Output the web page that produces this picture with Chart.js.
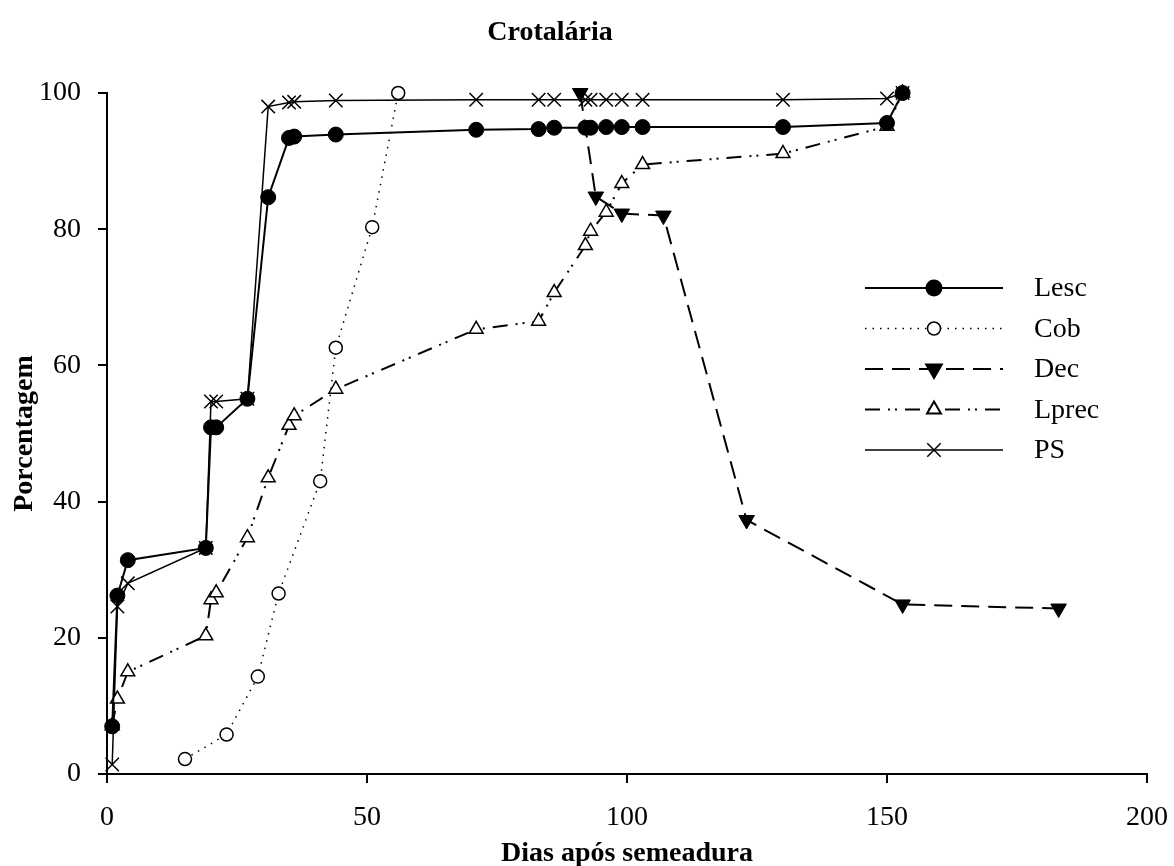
<!DOCTYPE html>
<html>
<head>
<meta charset="utf-8">
<script src="https://cdn.jsdelivr.net/npm/chart.js@4.4.0/dist/chart.umd.min.js"></script>
<style>
  html, body { margin: 0; padding: 0; background: #fff; }
</style>
</head>
<body>
<canvas id="chart" width="1174" height="866"></canvas>
<script>
/* ---------- DATA ---------- */
const days = [1, 2, 4, 19, 20, 21, 27, 31, 35, 36, 44, 71, 83, 86, 92, 93, 96, 99, 103, 130, 150, 153];
const lescY = [7, 26.2, 31.4, 33.2, 50.9, 50.9, 55.1, 84.7, 93.4, 93.6, 93.9, 94.6, 94.7, 94.9, 94.9, 94.9, 95.0, 95.0, 95.0, 95.0, 95.6, 100];
const lprecY = [7.1, 11.0, 15.0, 20.3, 25.6, 26.6, 34.7, 43.5, 51.2, 52.6, 56.5, 65.3, 66.5, 70.7, 77.6, 79.7, 82.5, 86.7, 89.5, 91.1, 95.1, 100];
const psY = [1.4, 24.6, 28.0, 33.2, 54.7, 54.7, 55.1, 98.0, 98.6, 98.7, 98.9, 99.0, 99.0, 99.0, 99.0, 99.0, 99.0, 99.0, 99.0, 99.0, 99.2, 100];

const cobX = [15, 23, 29, 33, 41, 44, 51, 56];
const cobY = [2.2, 5.8, 14.3, 26.5, 43.0, 62.6, 80.3, 100];

const decX = [91, 94, 99, 107, 123, 153, 183];
const decY = [100, 84.8, 82.3, 82.0, 37.3, 24.9, 24.3];

const xTicks = [0, 50, 100, 150, 200];
const yTicks = [0, 20, 40, 60, 80, 100];

const SERIF = '"Liberation Serif", "Times New Roman", serif';
const pts = (xs, ys) => xs.map((x, i) => ({ x, y: ys[i] }));

/* ---------- PLUGINS: title + in-plot legend ---------- */
const titlePlugin = {
  id: 'topTitle',
  afterDraw(chart) {
    const ctx = chart.ctx;
    ctx.save();
    ctx.fillStyle = '#000';
    ctx.font = 'bold 28px ' + SERIF;
    ctx.textAlign = 'center';
    ctx.textBaseline = 'middle';
    ctx.fillText('Crotalária', 550, 33);
    ctx.restore();
  }
};

const legendPlugin = {
  id: 'sideLegend',
  afterDraw(chart) {
    const ctx = chart.ctx;
    const x0 = 865, x1 = 1003, tx = 1034;
    chart.data.datasets.forEach((ds, i) => {
      const y = 288 + i * 40.5;
      ctx.save();
      ctx.strokeStyle = '#000';
      ctx.lineWidth = ds.borderWidth;
      ctx.setLineDash(ds.borderDash || []);
      ctx.beginPath();
      ctx.moveTo(x0, y);
      ctx.lineTo(x1, y);
      ctx.stroke();
      ctx.setLineDash([]);
      ctx.fillStyle = ds.pointBackgroundColor;
      ctx.strokeStyle = '#000';
      Chart.helpers.drawPoint(ctx, {
        pointStyle: ds.pointStyle,
        radius: ds.pointRadius,
        rotation: ds.pointRotation || 0,
        borderWidth: ds.pointBorderWidth
      }, (x0 + x1) / 2, y);
      ctx.fillStyle = '#000';
      ctx.font = '28px ' + SERIF;
      ctx.textBaseline = 'middle';
      ctx.fillText(ds.label, tx, y + 1);
      ctx.restore();
    });
  }
};

/* ---------- CHART ---------- */
const common = { borderColor: '#000', pointBorderColor: '#000', tension: 0, clip: false, fill: false };

new Chart(document.getElementById('chart'), {
  type: 'line',
  data: {
    datasets: [
      { ...common, label: 'Lesc', data: pts(days, lescY), borderWidth: 2,
        pointStyle: 'circle', pointRadius: 7.5, pointBackgroundColor: '#000', pointBorderWidth: 1 },
      { ...common, label: 'Cob', data: pts(cobX, cobY), borderWidth: 1.5, borderDash: [1.5, 6],
        pointStyle: 'circle', pointRadius: 6.5, pointBackgroundColor: '#fff', pointBorderWidth: 1.5 },
      { ...common, label: 'Dec', data: pts(decX, decY), borderWidth: 2, borderDash: [18, 9],
        pointStyle: 'triangle', pointRotation: 180, pointRadius: 9, pointBackgroundColor: '#000', pointBorderWidth: 1 },
      { ...common, label: 'Lprec', data: pts(days, lprecY), borderWidth: 2, borderDash: [15, 8, 2, 5, 2, 8],
        pointStyle: 'triangle', pointRadius: 8, pointBackgroundColor: '#fff', pointBorderWidth: 1.5 },
      { ...common, label: 'PS', data: pts(days, psY), borderWidth: 1.5,
        pointStyle: 'crossRot', pointRadius: 9.5, pointBackgroundColor: '#000', pointBorderWidth: 1.5 }
    ]
  },
  options: {
    responsive: false,
    animation: false,
    layout: { padding: { top: 93, right: 27, bottom: 0, left: 0 } },
    plugins: { legend: { display: false }, title: { display: false }, tooltip: { enabled: false } },
    scales: {
      x: {
        type: 'linear', min: 0, max: 200,
        afterBuildTicks: s => { s.ticks = xTicks.map(v => ({ value: v })); },
        afterFit: s => { s.height = 92; s.paddingRight = 0; s.paddingLeft = 0; },
        border: { display: true, color: '#000', width: 2 },
        grid: { display: true, drawOnChartArea: false, drawTicks: true, tickLength: 9, color: '#000', lineWidth: 2 },
        ticks: { color: '#000', font: { family: SERIF, size: 28 }, padding: 18, maxRotation: 0 },
        title: { display: true, text: 'Dias após semeadura', color: '#000',
                 font: { family: SERIF, size: 28, weight: 'bold', lineHeight: 0.9 }, padding: 0 }
      },
      y: {
        min: 0, max: 100,
        afterBuildTicks: s => { s.ticks = yTicks.map(v => ({ value: v })); },
        afterFit: s => { s.width = 107; },
        border: { display: true, color: '#000', width: 2 },
        grid: { display: true, drawOnChartArea: false, drawTicks: true, tickLength: 9, color: '#000', lineWidth: 2 },
        ticks: { color: '#000', font: { family: SERIF, size: 28 }, padding: 17 },
        title: { display: true, text: 'Porcentagem', color: '#000',
                 font: { family: SERIF, size: 28, weight: 'bold' }, padding: { top: 8, bottom: 0 } }
      }
    }
  },
  plugins: [titlePlugin, legendPlugin]
});
</script>
</body>
</html>
